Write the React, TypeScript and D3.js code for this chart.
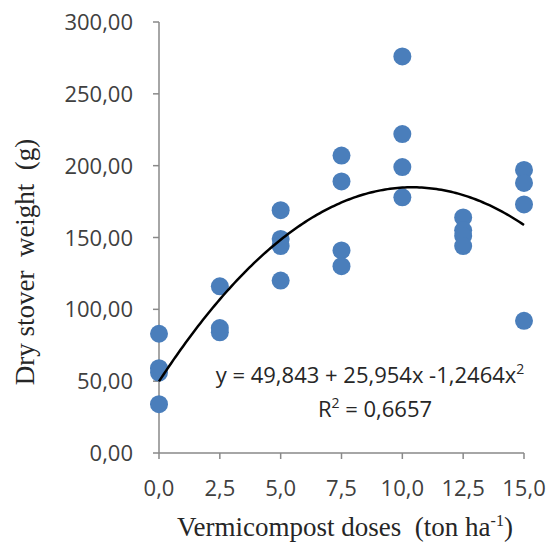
import React, { useEffect, useRef } from 'react';
import * as d3 from 'd3';

// vermicompost doses (ton/ha)
const doses = [0, 2.5, 5, 7.5, 10, 12.5, 15];
// dry stover weight (g), replicates per dose
const weights = [
  [83, 59, 56, 34],
  [116, 87, 84],
  [169, 149, 144, 120],
  [207, 189, 141, 130],
  [276, 222, 199, 178],
  [164, 155, 151, 144],
  [197, 188, 173, 92],
];
// polynomial trendline coefficients: a + b x + c x^2
const coef = [49.843, 25.954, -1.2464];
const yTicks = [0, 50, 100, 150, 200, 250, 300];
const xTicks = [0, 2.5, 5, 7.5, 10, 12.5, 15];

const App = () => {
  const ref = useRef<SVGSVGElement>(null);

  useEffect(() => {
    const svg = d3.select(ref.current);
    svg.selectAll('*').remove();

    const width = 550;
    const height = 545;
    svg.attr('width', width).attr('height', height);

    const x = d3.scaleLinear().domain([0, 15]).range([159, 524]);
    const y = d3.scaleLinear().domain([0, 300]).range([453, 22]);
    const axisColor = '#898989';
    const sans = "'Open Sans', sans-serif";
    const serif = "'Liberation Serif', 'Times New Roman', serif";
    const fmt = (d: number, n: number) => d.toFixed(n).replace('.', ',');

    // y axis
    svg.append('line')
      .attr('x1', x(0)).attr('x2', x(0))
      .attr('y1', y(0)).attr('y2', y(300))
      .attr('stroke', axisColor).attr('stroke-width', 1.5);
    svg.selectAll('.ytick')
      .data(yTicks)
      .enter()
      .append('line')
      .attr('x1', x(0) - 6).attr('x2', x(0))
      .attr('y1', d => y(d)).attr('y2', d => y(d))
      .attr('stroke', axisColor).attr('stroke-width', 1.5);
    svg.selectAll('.ylab')
      .data(yTicks)
      .enter()
      .append('text')
      .attr('x', 133)
      .attr('y', d => y(d) + 8)
      .attr('text-anchor', 'end')
      .attr('font-family', sans)
      .attr('font-size', 22)
      .attr('fill', '#404040')
      .text(d => fmt(d, 2));

    // x axis
    svg.append('line')
      .attr('x1', x(0)).attr('x2', x(15))
      .attr('y1', y(0)).attr('y2', y(0))
      .attr('stroke', axisColor).attr('stroke-width', 1.5);
    svg.selectAll('.xtick')
      .data(xTicks)
      .enter()
      .append('line')
      .attr('x1', d => x(d)).attr('x2', d => x(d))
      .attr('y1', y(0)).attr('y2', y(0) + 6)
      .attr('stroke', axisColor).attr('stroke-width', 1.5);
    svg.selectAll('.xlab')
      .data(xTicks)
      .enter()
      .append('text')
      .attr('x', d => x(d))
      .attr('y', 496)
      .attr('text-anchor', 'middle')
      .attr('font-family', sans)
      .attr('font-size', 22)
      .attr('fill', '#404040')
      .text(d => fmt(d, 1));

    // axis titles
    const xt = svg.append('text')
      .attr('x', 345)
      .attr('y', 536)
      .attr('text-anchor', 'middle')
      .attr('font-family', serif)
      .attr('font-size', 27)
      .attr('fill', '#262626')
      .attr('xml:space', 'preserve');
    xt.append('tspan').text('Vermicompost doses  (ton ha');
    xt.append('tspan').attr('font-size', 16).attr('dy', -10).text('-1');
    xt.append('tspan').attr('dy', 10).text(')');

    svg.append('text')
      .attr('transform', 'translate(34,262) rotate(-90)')
      .attr('text-anchor', 'middle')
      .attr('font-family', serif)
      .attr('font-size', 27)
      .attr('fill', '#262626')
      .attr('xml:space', 'preserve')
      .text('Dry stover  weight  (g)');

    // points
    const pts = doses.flatMap((d, i) => weights[i].map(w => ({ d, w })));
    svg.selectAll('circle')
      .data(pts)
      .enter()
      .append('circle')
      .attr('cx', p => x(p.d))
      .attr('cy', p => y(p.w))
      .attr('r', 9)
      .attr('fill', '#4a7ebb');

    // trendline
    const poly = (t: number) => coef[0] + coef[1] * t + coef[2] * t * t;
    const line = d3.line<number>()
      .x(t => x(t))
      .y(t => y(poly(t)));
    svg.append('path')
      .datum(d3.range(0, 15.01, 0.1))
      .attr('d', line)
      .attr('fill', 'none')
      .attr('stroke', '#000')
      .attr('stroke-width', 2.5);

    // equation label
    const eq = svg.append('text')
      .attr('x', 370)
      .attr('y', 383)
      .attr('text-anchor', 'middle')
      .attr('font-family', sans)
      .attr('font-size', 22)
      .attr('fill', '#262626');
    eq.append('tspan').text('y = 49,843 + 25,954x -1,2464x');
    eq.append('tspan').attr('font-size', 14).attr('dy', -9).text('2');

    const r2 = svg.append('text')
      .attr('x', 375)
      .attr('y', 417)
      .attr('text-anchor', 'middle')
      .attr('font-family', sans)
      .attr('font-size', 22)
      .attr('fill', '#262626');
    r2.append('tspan').text('R');
    r2.append('tspan').attr('font-size', 14).attr('dy', -9).text('2');
    r2.append('tspan').attr('dy', 9).text(' = 0,6657');
  }, []);

  return <svg ref={ref} style={{ position: 'absolute', left: 0, top: 0 }}></svg>;
};

export default App;
